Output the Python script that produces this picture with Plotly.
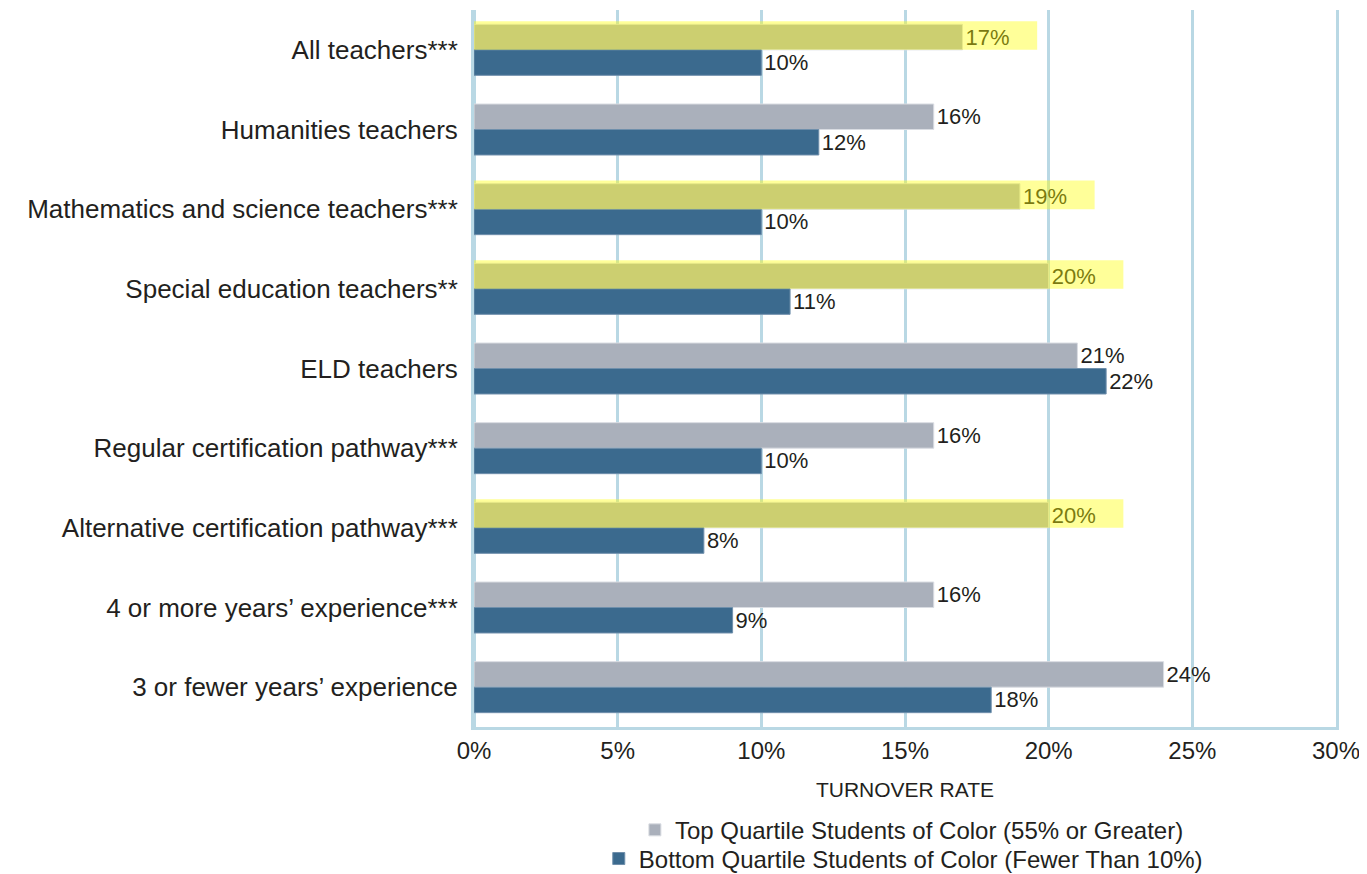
import plotly.graph_objects as go

categories = [
    "All teachers***",
    "Humanities teachers",
    "Mathematics and science teachers***",
    "Special education teachers**",
    "ELD teachers",
    "Regular certification pathway***",
    "Alternative certification pathway***",
    "4 or more years’ experience***",
    "3 or fewer years’ experience",
]
top_quartile = [17, 16, 19, 20, 21, 16, 20, 16, 24]
bottom_quartile = [10, 12, 10, 11, 22, 10, 8, 9, 18]
highlighted = [True, False, True, True, False, False, True, False, False]
x_ticks = [0, 5, 10, 15, 20, 25, 30]

GRAY = "#aab0bb"
BLUE = "#3b6a8e"
GRID = "#b9d8e4"
TXT = "#231f20"
FONT = "Liberation Sans, Arial, sans-serif"

fig = go.Figure()
fig.add_trace(go.Bar(
    y=categories, x=top_quartile, orientation="h",
    name="Top Quartile Students of Color (55% or Greater)",
    marker=dict(color=GRAY, line=dict(color="#d9dce2", width=1)),
    text=[f"{v}%" for v in top_quartile], textposition="outside",
    textfont=dict(size=22, color=TXT, family=FONT), cliponaxis=False,
    legend="legend", showlegend=True,
))
fig.add_trace(go.Bar(
    y=categories, x=bottom_quartile, orientation="h",
    name="Bottom Quartile Students of Color (Fewer Than 10%)",
    marker=dict(color=BLUE, line=dict(color="#6f8fab", width=1)),
    text=[f"{v}%" for v in bottom_quartile], textposition="outside",
    textfont=dict(size=22, color=TXT, family=FONT), cliponaxis=False,
    legend="legend2", showlegend=True,
))

shapes = []
for i, (v, h) in enumerate(zip(top_quartile, highlighted)):
    if h:
        shapes.append(dict(
            type="rect", xref="x", yref="y",
            x0=-0.15, x1=v + 2.6, y0=i - 0.36, y1=i,
            fillcolor="rgba(255,255,0,0.4)", line=dict(width=0),
            layer="above",
        ))

fig.update_layout(
    width=1359, height=866,
    margin=dict(l=466, r=31, t=2, b=147, autoexpand=False),
    paper_bgcolor="white", plot_bgcolor="white",
    barmode="group", bargap=0.36, bargroupgap=0,
    font=dict(family=FONT, color=TXT),
    shapes=shapes, showlegend=True,
    xaxis=dict(
        range=[0, 30], tickvals=x_ticks, ticktext=[f"{t}%" for t in x_ticks],
        showgrid=True, gridcolor=GRID, gridwidth=3,
        zeroline=True, zerolinecolor=GRID, zerolinewidth=3,
        showline=True, linecolor=GRID, linewidth=3,
        ticks="", tickfont=dict(size=24, color=TXT),
        title=dict(text="TURNOVER RATE", font=dict(size=21, color=TXT), standoff=20),
    ),
    yaxis=dict(
        autorange="reversed", showgrid=False,
        showline=True, mirror=True, linecolor=GRID, linewidth=3,
        ticks="", ticklabelstandoff=8, tickfont=dict(size=26, color=TXT),
    ),
    legend=dict(x=0.508, y=-0.144, xanchor="center", yanchor="middle",
                font=dict(size=24, color=TXT), bgcolor="rgba(0,0,0,0)",
                itemwidth=30),
    legend2=dict(x=0.498, y=-0.184, xanchor="center", yanchor="middle",
                 font=dict(size=24, color=TXT), bgcolor="rgba(0,0,0,0)",
                 itemwidth=30),
)

fig.write_html("out.html")
